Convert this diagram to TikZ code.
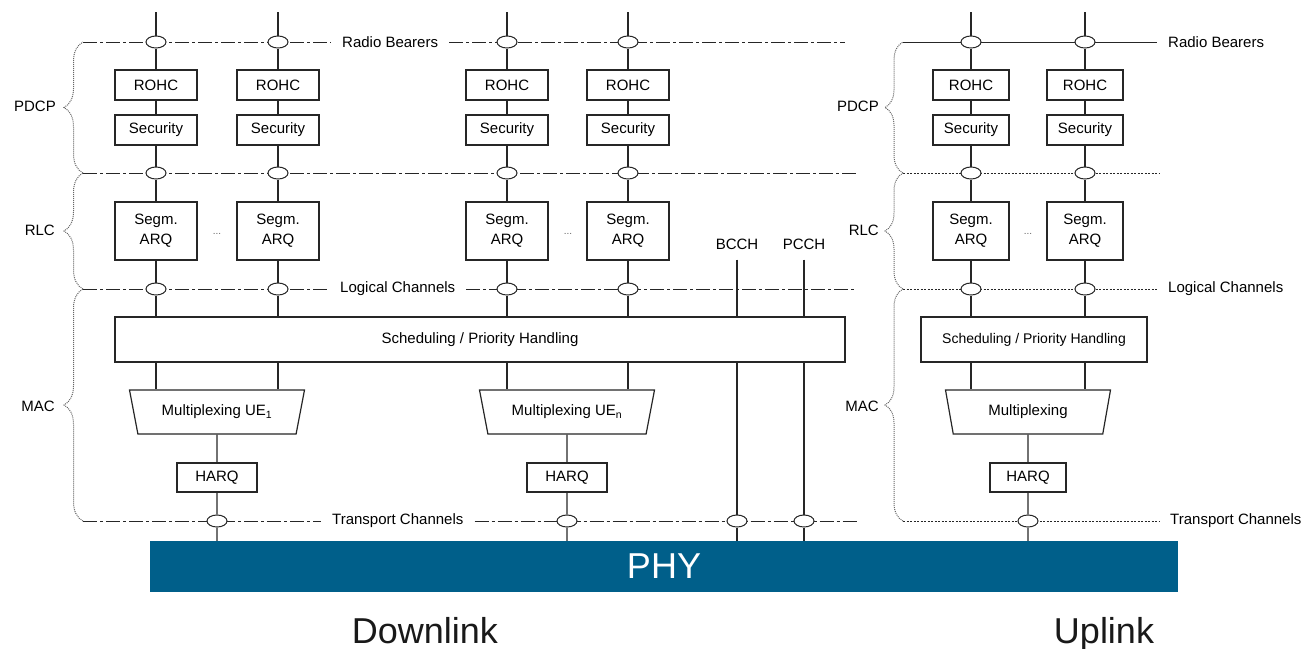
\documentclass[tikz,border=0pt]{standalone}
\usepackage{fontspec}
\setmainfont{Liberation Sans}
\usetikzlibrary{shapes.geometric,decorations.pathreplacing}
\pgfdeclarelayer{background}
\pgfsetlayers{background,main}
\definecolor{phyblue}{RGB}{0,95,138}
\tikzset{
  link/.style={line width=1.2pt, draw=black!85},
  blockbox/.style={draw=black!85, line width=1.2pt, fill=white, minimum width=82pt, minimum height=30pt,
    inner sep=0pt, align=center, font=\fontsize{15}{20}\selectfont},
  muxbox/.style={draw=black!85, line width=1.2pt, fill=white, trapezium, trapezium angle=59,
    shape border rotate=180, trapezium stretches body, minimum width=175pt, minimum height=44pt,
    inner sep=0pt, font=\fontsize{15}{17}\selectfont},
  chanring/.style={draw=black!85, ellipse, fill=white, line width=1pt, minimum width=20pt,
    minimum height=12pt, inner sep=0pt},
  chanlabel/.style={inner xsep=11pt, inner ysep=0pt, font=\fontsize{15}{17}\selectfont},
  dlline/.style={line width=1pt, draw=black!85, dash pattern=on 14pt off 3pt on 3pt off 3pt},
  ulline/.style={line width=1pt, draw=black!85, dash pattern=on 2pt off 1.5pt},
  layerbrace/.style={draw=black!60, line width=1pt, densely dotted, decorate,
    decoration={brace, amplitude=19pt}},
  dotsmark/.style={text=black!60, font=\fontsize{10}{10}\selectfont, inner sep=0pt}
}
\begin{document}
\begin{tikzpicture}[x=1pt,y=-1pt]
\useasboundingbox (0,0) rectangle (1313,648);

% downlink columns
\foreach \c/\x in {a/156,b/278,c/507,d/628}{
  \coordinate (top\c) at (\x,12);
  \node[chanring] (rb\c) at (\x,42) {};
  \node[blockbox] (rohc\c) at (\x,85) {ROHC};
  \node[blockbox] (sec\c) at (\x,130) {Security};
  \node[chanring] (pl\c) at (\x,173) {};
  \node[blockbox, minimum height=58pt] (segm\c) at (\x,231) {Segm.\\ARQ};
  \node[chanring] (lc\c) at (\x,289) {};
  \draw[link] (top\c) -- (rb\c) -- (rohc\c) -- (sec\c) -- (pl\c) -- (segm\c) -- (lc\c);
}
% uplink columns
\foreach \c/\x in {e/971,f/1085}{
  \coordinate (top\c) at (\x,12);
  \node[chanring] (rb\c) at (\x,42) {};
  \node[blockbox, minimum width=76pt] (rohc\c) at (\x,85) {ROHC};
  \node[blockbox, minimum width=76pt] (sec\c) at (\x,130) {Security};
  \node[chanring] (pl\c) at (\x,173) {};
  \node[blockbox, minimum width=76pt, minimum height=58pt] (segm\c) at (\x,231) {Segm.\\ARQ};
  \node[chanring] (lc\c) at (\x,289) {};
  \draw[link] (top\c) -- (rb\c) -- (rohc\c) -- (sec\c) -- (pl\c) -- (segm\c) -- (lc\c);
}
\node[dotsmark] at (217,234) {...};
\node[dotsmark] at (568,234) {...};
\node[dotsmark] at (1028,234) {...};

% MAC
\node[blockbox, minimum width=730pt, minimum height=45pt] (schedDL) at (480,339.5) {Scheduling / Priority Handling};
\node[blockbox, minimum width=226pt, minimum height=45pt, font=\fontsize{14}{17}\selectfont] (schedUL) at (1034,339.5) {Scheduling / Priority Handling};
\node[muxbox] (muxA) at (217,412) {Multiplexing UE\textsubscript{1}};
\node[muxbox] (muxB) at (567,412) {Multiplexing UE\textsubscript{n}};
\node[muxbox, minimum width=165pt, trapezium angle=61] (muxC) at (1028,412) {Multiplexing};
\node[blockbox, minimum width=80pt, minimum height=29pt] (harqA) at (217,477.5) {HARQ};
\node[blockbox, minimum width=80pt, minimum height=29pt] (harqB) at (567,477.5) {HARQ};
\node[blockbox, minimum width=76pt, minimum height=29pt] (harqC) at (1028,477.5) {HARQ};
\node[chanlabel, inner ysep=10pt, inner xsep=0pt] (bcch) at (737,244) {BCCH};
\node[chanlabel, inner ysep=10pt, inner xsep=0pt] (pcch) at (804,244) {PCCH};

\node[chanring] (tca) at (217,521) {};
\node[chanring] (tcb) at (567,521) {};
\node[chanring] (tcc) at (737,521) {};
\node[chanring] (tcd) at (804,521) {};
\node[chanring] (tce) at (1028,521) {};

\node[fill=phyblue, minimum width=1028pt, minimum height=51pt, inner sep=0pt, text=white,
  font=\fontsize{36}{40}\selectfont] (phy) at (664,566.5) {PHY};

\foreach \c in {a,b,c,d}
  \draw[link] (lc\c) -- (lc\c |- schedDL.north);
\foreach \c in {e,f}
  \draw[link] (lc\c) -- (lc\c |- schedUL.north);
\draw[link] (schedDL.south -| rba) -- (muxA.north -| rba);
\draw[link] (schedDL.south -| rbb) -- (muxA.north -| rbb);
\draw[link] (schedDL.south -| rbc) -- (muxB.north -| rbc);
\draw[link] (schedDL.south -| rbd) -- (muxB.north -| rbd);
\draw[link] (schedUL.south -| rbe) -- (muxC.north -| rbe);
\draw[link] (schedUL.south -| rbf) -- (muxC.north -| rbf);
\draw[link] (muxA) -- (harqA) -- (tca) -- (tca |- phy.north);
\draw[link] (muxB) -- (harqB) -- (tcb) -- (tcb |- phy.north);
\draw[link] (muxC) -- (harqC) -- (tce) -- (tce |- phy.north);
\draw[link] (bcch) -- (bcch |- schedDL.north) (schedDL.south -| bcch) -- (tcc) -- (tcc |- phy.north);
\draw[link] (pcch) -- (pcch |- schedDL.north) (schedDL.south -| pcch) -- (tcd) -- (tcd |- phy.north);

% channel lines
\node[chanlabel, anchor=west] (rbDL) at (331,42) {Radio Bearers};
\node[chanlabel, anchor=west] (lcDL) at (329,289) {Logical Channels};
\node[chanlabel, anchor=west] (tcDL) at (321,521) {Transport Channels};
\node[chanlabel, anchor=west] (rbUL) at (1157,42) {Radio Bearers};
\node[chanlabel, anchor=west] (lcUL) at (1157,289) {Logical Channels};
\node[chanlabel, anchor=west] (tcUL) at (1159,521) {Transport Channels};
\coordinate (dlRB) at (83,42);
\coordinate (dlRBend) at (845,42);
\coordinate (dlPL) at (83,173);
\coordinate (dlPLend) at (857,173);
\coordinate (dlLC) at (83,289);
\coordinate (dlLCend) at (857,289);
\coordinate (dlTC) at (83,521);
\coordinate (dlTCend) at (857,521);
\coordinate (ulRB) at (903,42);
\coordinate (ulPL) at (903,173);
\coordinate (ulPLend) at (1160,173);
\coordinate (ulLC) at (903,289);
\coordinate (ulTC) at (903,521);
\begin{pgfonlayer}{background}
  \draw[dlline] (dlRB) -- (rbDL.west) (rbDL.east) -- (dlRBend);
  \draw[dlline] (dlPL) -- (dlPLend);
  \draw[dlline] (dlLC) -- (lcDL.west) (lcDL.east) -- (dlLCend);
  \draw[dlline] (dlTC) -- (tcDL.west) (tcDL.east) -- (dlTCend);
  \draw[link, line width=1pt] (ulRB) -- (rbUL.west);
  \draw[ulline] (ulPL) -- (ulPLend);
  \draw[ulline] (ulLC) -- (lcUL.west);
  \draw[ulline] (ulTC) -- (tcUL.west);
\end{pgfonlayer}

% layer braces
\draw[layerbrace] (dlPL) -- (dlRB);
\draw[layerbrace] (dlLC) -- (dlPL);
\draw[layerbrace] (dlTC) -- (dlLC);
\draw[layerbrace, decoration={amplitude=18pt}] (ulPL) -- (ulRB);
\draw[layerbrace, decoration={amplitude=18pt}] (ulLC) -- (ulPL);
\draw[layerbrace, decoration={amplitude=18pt}] (ulTC) -- (ulLC);
\node[chanlabel, inner xsep=0pt, anchor=east] (pdcpDL) at (56,106) {PDCP};
\node[chanlabel, inner xsep=0pt, anchor=east] (rlcDL) at (55,230) {RLC};
\node[chanlabel, inner xsep=0pt, anchor=east] (macDL) at (55,406) {MAC};
\node[chanlabel, inner xsep=0pt, anchor=east] (pdcpUL) at (879,106) {PDCP};
\node[chanlabel, inner xsep=0pt, anchor=east] (rlcUL) at (879,230) {RLC};
\node[chanlabel, inner xsep=0pt, anchor=east] (macUL) at (879,406) {MAC};

% link directions
\node[anchor=base, text=black!90, font=\fontsize{36}{40}\selectfont] (dlTitle) at (425,643) {Downlink};
\node[anchor=base, text=black!90, font=\fontsize{36}{40}\selectfont] (ulTitle) at (1104,643) {Uplink};
\end{tikzpicture}
\end{document}
